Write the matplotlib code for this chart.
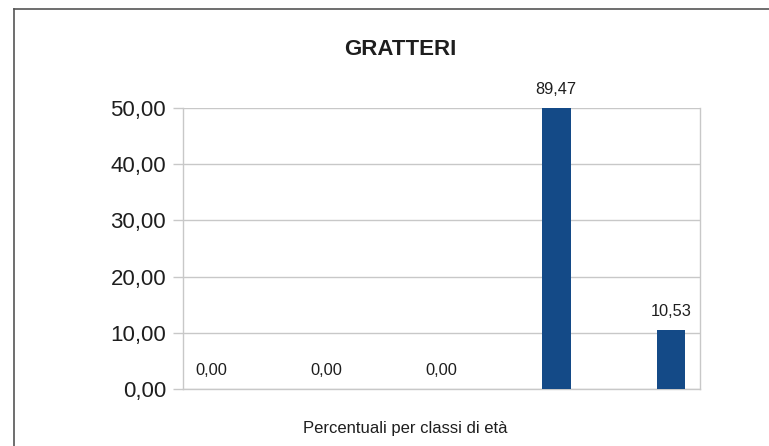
import numpy as np
import matplotlib
matplotlib.use('Agg')
import matplotlib.pyplot as plt
from matplotlib.lines import Line2D

plt.rcParams['font.family'] = ['Liberation Sans', 'DejaVu Sans']

# dati
classi = ['1', '2', '3', '4', '5']
valori = [0.00, 0.00, 0.00, 89.47, 10.53]
y_ticks = [0, 10, 20, 30, 40, 50]
titolo = 'GRATTERI'
etichetta_x = 'Percentuali per classi di età'

def virgola(v):
    return f'{v:.2f}'.replace('.', ',')

fig = plt.figure(figsize=(7.69, 4.46), dpi=100)
ax = fig.add_axes([0.238, 0.1278, 0.672, 0.630])

x = np.arange(len(classi))
ax.bar(x, valori, width=0.25, color='#144A87', zorder=3)

# etichette sopra le barre (tagliate a 50)
for xi, v in zip(x, valori):
    ax.annotate(virgola(v), (xi, min(v, 50)), xytext=(0, 8), textcoords='offset points',
                ha='center', va='bottom', fontsize=11.8, color='#1e1e1e', annotation_clip=False)

ax.set_xlim(-0.25, 4.25)
ax.set_ylim(0, 50)
ax.set_yticks(y_ticks)
ax.set_yticklabels([virgola(t) for t in y_ticks], fontsize=16, color='#1e1e1e')
ax.set_xticks([])
ax.tick_params(axis='y', length=7.2, width=1, color='#c8c8c8', pad=5)
ax.grid(axis='y', color='#c8c8c8', linewidth=1, zorder=0)
for s in ['left', 'right', 'bottom']:
    ax.spines[s].set_color('#c8c8c8')
    ax.spines[s].set_linewidth(1)
ax.spines['top'].set_visible(False)

fig.text(0.52, 0.890, titolo, ha='center', va='center', fontsize=16, fontweight='bold', color='#1e1e1e')
fig.text(0.527, 0.040, etichetta_x, ha='center', va='center', fontsize=12, color='#1e1e1e')

# cornice
fig.add_artist(Line2D([14/769, 14/769], [0, 1 - 9/446], transform=fig.transFigure, color='#555555', lw=1.2))
fig.add_artist(Line2D([14/769, 1], [1 - 9/446, 1 - 9/446], transform=fig.transFigure, color='#555555', lw=1.2))

fig.savefig('out.png', dpi=100, facecolor='white')
